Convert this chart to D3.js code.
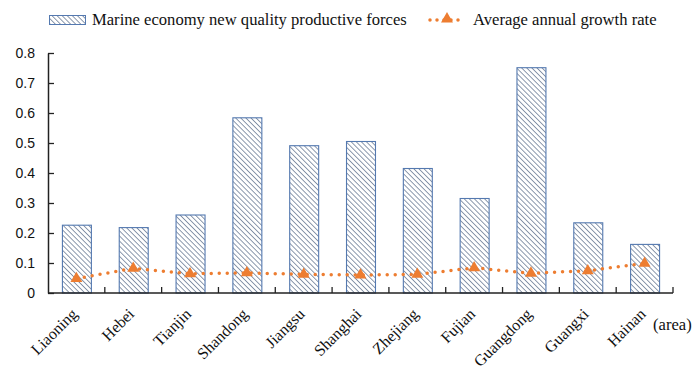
<!DOCTYPE html>
<html>
<head>
<meta charset="utf-8">
<script src="https://cdn.jsdelivr.net/npm/d3@7"></script>
<style>
  html, body { margin: 0; padding: 0; background: #fff; }
  svg { display: block; }
</style>
</head>
<body>
<svg id="chart" width="692" height="369"></svg>
<script>
const categories = ["Liaoning", "Hebei", "Tianjin", "Shandong", "Jiangsu", "Shanghai", "Zhejiang", "Fujian", "Guangdong", "Guangxi", "Hainan"];
const productiveForces = [0.226, 0.218, 0.260, 0.584, 0.491, 0.505, 0.415, 0.315, 0.751, 0.234, 0.162];
const growthRate = [0.048, 0.082, 0.064, 0.067, 0.062, 0.060, 0.062, 0.084, 0.066, 0.074, 0.099];
const yTicks = [0, 0.1, 0.2, 0.3, 0.4, 0.5, 0.6, 0.7, 0.8];
const seriesNames = ["Marine economy new quality productive forces", "Average annual growth rate"];
const axisUnit = "(area)";

const svg = d3.select("#chart");
const plotLeft = 48, plotRight = 673, plotTop = 53, plotBottom = 293;

const x = d3.scaleBand().domain(categories).range([plotLeft, plotRight]).paddingInner(0.49).paddingOuter(0.245);
const y = d3.scaleLinear().domain([0, 0.8]).range([plotBottom, plotTop]);

const orange = "#ED7D31";
const serif = "'Liberation Serif', 'Times New Roman', serif";
const sans = "'Liberation Sans', Arial, sans-serif";

// hatch pattern (lines running top-left to bottom-right)
const defs = svg.append("defs");
const pat = defs.append("pattern").attr("id", "hatch").attr("patternUnits", "userSpaceOnUse")
  .attr("width", 3.6).attr("height", 3.6).attr("patternTransform", "rotate(-45)");
pat.append("rect").attr("width", 3.6).attr("height", 3.6).attr("fill", "#fff");
pat.append("line").attr("x1", 0).attr("y1", 0).attr("x2", 0).attr("y2", 3.6)
  .attr("stroke", "#506382").attr("stroke-width", 1.3);

// bars
svg.append("g").selectAll("rect").data(categories).join("rect")
  .attr("x", d => x(d) + 0.5)
  .attr("y", (d, i) => y(productiveForces[i]))
  .attr("width", x.bandwidth())
  .attr("height", (d, i) => y(0) - y(productiveForces[i]))
  .attr("fill", "url(#hatch)")
  .attr("stroke", "#5479b0").attr("stroke-width", 1.1);

// y axis
const yAxis = d3.axisLeft(y).tickValues(yTicks)
  .tickFormat(d => d === 0 ? "0" : d3.format(".1f")(d))
  .tickSizeInner(-6).tickSizeOuter(0).tickPadding(13);
const gy = svg.append("g").attr("transform", `translate(${plotLeft},0)`).call(yAxis);
gy.select(".domain").attr("stroke", "#222").attr("stroke-width", 1.5);
gy.selectAll(".tick line").attr("stroke", "#222").attr("stroke-width", 1.3);
gy.selectAll(".tick text").attr("font-family", sans).attr("font-size", 14).attr("fill", "#111");

// x axis with boundary ticks
const boundaries = d3.range(categories.length + 1).map(i => plotLeft + i * x.step());
const gx = svg.append("g");
gx.append("line").attr("x1", plotLeft).attr("x2", plotRight).attr("y1", y(0)).attr("y2", y(0))
  .attr("stroke", "#222").attr("stroke-width", 1.5);
gx.selectAll("line.tk").data(boundaries.slice(1)).join("line").attr("class", "tk")
  .attr("x1", d => d).attr("x2", d => d).attr("y1", y(0)).attr("y2", y(0) - 6)
  .attr("stroke", "#222").attr("stroke-width", 1.3);
gx.selectAll("text").data(categories).join("text")
  .attr("transform", d => `translate(${x(d) + x.bandwidth() / 2 + 2},${y(0) + 22}) rotate(-45)`)
  .attr("text-anchor", "end")
  .attr("font-family", serif).attr("font-size", 16).attr("fill", "#111")
  .text(d => d);
svg.append("text").attr("x", 653).attr("y", 330)
  .attr("font-family", serif).attr("font-size", 16.6).attr("fill", "#111").text(axisUnit);

// growth rate line
const lineGen = d3.line().x((d, i) => x(categories[i]) + x.bandwidth() / 2).y(d => y(d));
svg.append("path").datum(growthRate).attr("d", lineGen)
  .attr("fill", "none").attr("stroke", orange).attr("stroke-width", 3.5)
  .attr("stroke-linecap", "round").attr("stroke-dasharray", "0 8");
const tri = d3.symbol().type(d3.symbolTriangle).size(62);
svg.append("g").selectAll("path").data(growthRate).join("path")
  .attr("transform", (d, i) => `translate(${x(categories[i]) + x.bandwidth() / 2},${y(d)})`)
  .attr("d", tri).attr("fill", orange);

// legend
const lg = svg.append("g");
lg.append("rect").attr("x", 49.5).attr("y", 15.5).attr("width", 36).attr("height", 9)
  .attr("fill", "url(#hatch)").attr("stroke", "#5479b0").attr("stroke-width", 1);
lg.append("text").attr("x", 92).attr("y", 25).attr("font-family", serif).attr("font-size", 16.6)
  .attr("fill", "#111").text(seriesNames[0]);
lg.append("line").attr("x1", 430).attr("x2", 465).attr("y1", 20).attr("y2", 20)
  .attr("stroke", orange).attr("stroke-width", 3.5).attr("stroke-linecap", "round").attr("stroke-dasharray", "0 7");
lg.append("path").attr("transform", "translate(447,19)").attr("d", tri).attr("fill", orange);
lg.append("text").attr("x", 473).attr("y", 25).attr("font-family", serif).attr("font-size", 16.6)
  .attr("fill", "#111").text(seriesNames[1]);
</script>
</body>
</html>
